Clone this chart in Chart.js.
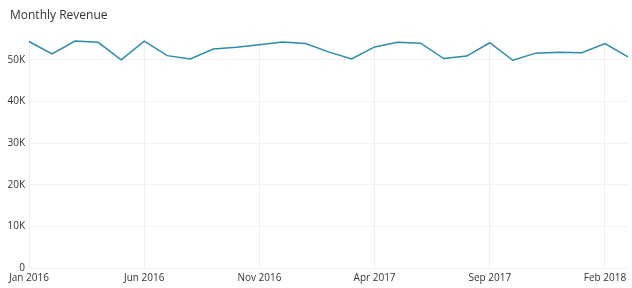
<!DOCTYPE html>
<html>
<head>
<meta charset="utf-8">
<script src="https://cdn.jsdelivr.net/npm/chart.js@4"></script>
<style>
  html, body { margin: 0; padding: 0; background: #fff; }
  #wrap { width: 632px; height: 288px; position: relative; }
  #chart-title { position: absolute; left: 10px; top: 6px; font: 12px 'Open Sans', sans-serif; color: #333; }
</style>
</head>
<body>
<div id="wrap">
    <div id="chart-title">Monthly Revenue</div>
    <canvas id="revenue-chart"></canvas>
</div>
<script>
var months = ["Jan 2016", "Feb 2016", "Mar 2016", "Apr 2016", "May 2016", "Jun 2016", "Jul 2016", "Aug 2016", "Sep 2016", "Oct 2016", "Nov 2016", "Dec 2016",
    "Jan 2017", "Feb 2017", "Mar 2017", "Apr 2017", "May 2017", "Jun 2017", "Jul 2017", "Aug 2017", "Sep 2017", "Oct 2017", "Nov 2017", "Dec 2017",
    "Jan 2018", "Feb 2018", "Mar 2018"]
var revenue = [54400, 51400, 54500, 54200, 50000, 54500, 51000, 50200, 52600, 53000, 53600, 54300,
    53900, 51900, 50200, 53100, 54200, 54000, 50300, 50900, 54100, 49900, 51600, 51800,
    51700, 53900, 50700]
var yTicks = [0, 10000, 20000, 30000, 40000, 50000]
var yTickLabels = ["0", "10K", "20K", "30K", "40K", "50K"]

Chart.defaults.font.family = "'Open Sans', sans-serif";
Chart.defaults.color = "#333";

new Chart("revenue-chart", {
    type: 'line',
    data: {
        labels: months,
        datasets: [{
            label: "Revenue",
            data: revenue,
            borderColor: "#2a8ca9",
            borderWidth: 1.5,
            pointRadius: 0,
            tension: 0,
            fill: false
        }]
    },
    options: {
        responsive: true,
        maintainAspectRatio: false,
        animation: false,
        layout: { padding: { left: 0, right: 1, top: 39, bottom: 0 } },
        plugins: {
            legend: { display: false },
            tooltip: { enabled: false },
            title: { display: false }
        },
        scales: {
            x: {
                offset: false,
                border: { display: false },
                grid: {
                    drawTicks: false,
                    color: function (ctx) {
                        return ctx.index % 5 === 0 ? "#eeeeee" : "rgba(0,0,0,0)";
                    }
                },
                ticks: {
                    autoSkip: false,
                    maxRotation: 0,
                    padding: 4,
                    font: { size: 10 },
                    callback: function (value, index) {
                        return index % 5 === 0 ? months[index] : '';
                    }
                }
            },
            y: {
                min: 0,
                max: 55000,
                border: { display: false },
                afterBuildTicks: function (scale) {
                    scale.ticks = yTicks.map(function (v) { return { value: v }; });
                },
                afterFit: function (scale) { scale.width = 29; },
                grid: { drawTicks: false, color: "#f2f2f2" },
                ticks: {
                    padding: 4,
                    font: { size: 10 },
                    callback: function (value) {
                        return yTickLabels[yTicks.indexOf(value)];
                    }
                }
            }
        }
    }
});
</script>
</body>
</html>
